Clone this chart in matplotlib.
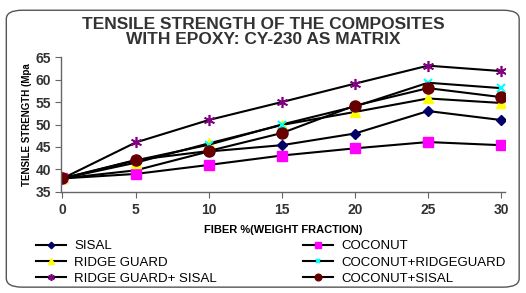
import matplotlib
matplotlib.use('Agg')
import matplotlib.pyplot as plt
from matplotlib.patches import FancyBboxPatch

plt.rcParams['font.family'] = ['Liberation Sans', 'DejaVu Sans']

# data
fiber = [0, 5, 10, 15, 20, 25, 30]
sisal = [38, 39.8, 44, 45.4, 48, 53, 51]
coconut = [38, 39, 41, 43.1, 44.7, 46.1, 45.4]
ridge_guard = [38, 41.5, 45.8, 49.9, 52.8, 55.8, 54.8]
coconut_ridgeguard = [38, 42, 45.5, 50, 54, 59.3, 58.1]
ridge_guard_sisal = [38, 46, 51, 55, 59.1, 63.1, 61.9]
coconut_sisal = [38, 42.1, 44.1, 48.1, 54.2, 58.1, 56.1]

fig = plt.figure(figsize=(5.26, 2.93), dpi=100)
ax = fig.add_axes([0.116, 0.345, 0.845, 0.46])

# rounded frame around the whole chart
frame = FancyBboxPatch((0.012, 0.02), 0.975, 0.945,
                       boxstyle='round,pad=0,rounding_size=0.03',
                       transform=fig.transFigure, facecolor='none',
                       edgecolor='#555555', linewidth=1.0, zorder=-10)
fig.add_artist(frame)

lw = 1.5
l1, = ax.plot(fiber, sisal, color='black', lw=lw, marker='D', ms=5.5,
              mfc='#000066', mec='#000066', label='SISAL')
l2, = ax.plot(fiber, coconut, color='black', lw=lw, marker='s', ms=7,
              mfc='#ff00ff', mec='#ff00ff', label='COCONUT')
l3, = ax.plot(fiber, ridge_guard, color='black', lw=lw, marker='^', ms=7,
              mfc='#ffff00', mec='#ffff00', label='RIDGE GUARD')
l4, = ax.plot(fiber, coconut_ridgeguard, color='black', lw=lw, marker='x', ms=6,
              mew=1.5, mec='#00ffff', label='COCONUT+RIDGEGUARD')
l5, = ax.plot(fiber, ridge_guard_sisal, color='black', lw=lw, marker=(6, 2, 0), ms=8,
              mew=1.2, mec='#800080', label='RIDGE GUARD+ SISAL')
l6, = ax.plot(fiber, coconut_sisal, color='black', lw=lw, marker='o', ms=8,
              mfc='#660000', mec='#660000', label='COCONUT+SISAL')

ax.set_xlim(-0.1, 30.3)
ax.set_ylim(35, 65)
ax.set_xticks(fiber)
ax.set_yticks([35, 40, 45, 50, 55, 60, 65])
ax.spines['top'].set_visible(False)
ax.spines['right'].set_visible(False)
for s in ['left', 'bottom']:
    ax.spines[s].set_color('#666666')
    ax.spines[s].set_linewidth(1.0)
ax.tick_params(colors='#666666', length=4, labelcolor='#333333')
for lab in ax.get_xticklabels() + ax.get_yticklabels():
    lab.set_fontweight('bold')
    lab.set_fontsize(10)
ax.tick_params(axis='x', pad=4)
ax.tick_params(axis='y', pad=3)

ax.set_ylabel('TENSILE STRENGTH (Mpa', fontsize=7, fontweight='bold', labelpad=3)
ax.set_xlabel('FIBER %(WEIGHT FRACTION)', fontsize=8, fontweight='bold', labelpad=6)

fig.text(0.5, 0.89, 'TENSILE STRENGTH OF THE COMPOSITES\nWITH EPOXY: CY-230 AS MATRIX',
         ha='center', va='center', fontsize=12.5, fontweight='bold', color='#333333',
         linespacing=1.0)

leg_kw = dict(frameon=False, fontsize=9.5, handlelength=2.3, labelspacing=0.3,
              handletextpad=0.6, markerscale=0.6, borderpad=0, borderaxespad=0)
leg1 = fig.legend([l1, l3, l5], [l1.get_label(), l3.get_label(), l5.get_label()],
                  loc='center left', bbox_to_anchor=(0.068, 0.104), **leg_kw)
leg2 = fig.legend([l2, l4, l6], [l2.get_label(), l4.get_label(), l6.get_label()],
                  loc='center left', bbox_to_anchor=(0.576, 0.104), **leg_kw)

plt.savefig('out.png', dpi=100)
